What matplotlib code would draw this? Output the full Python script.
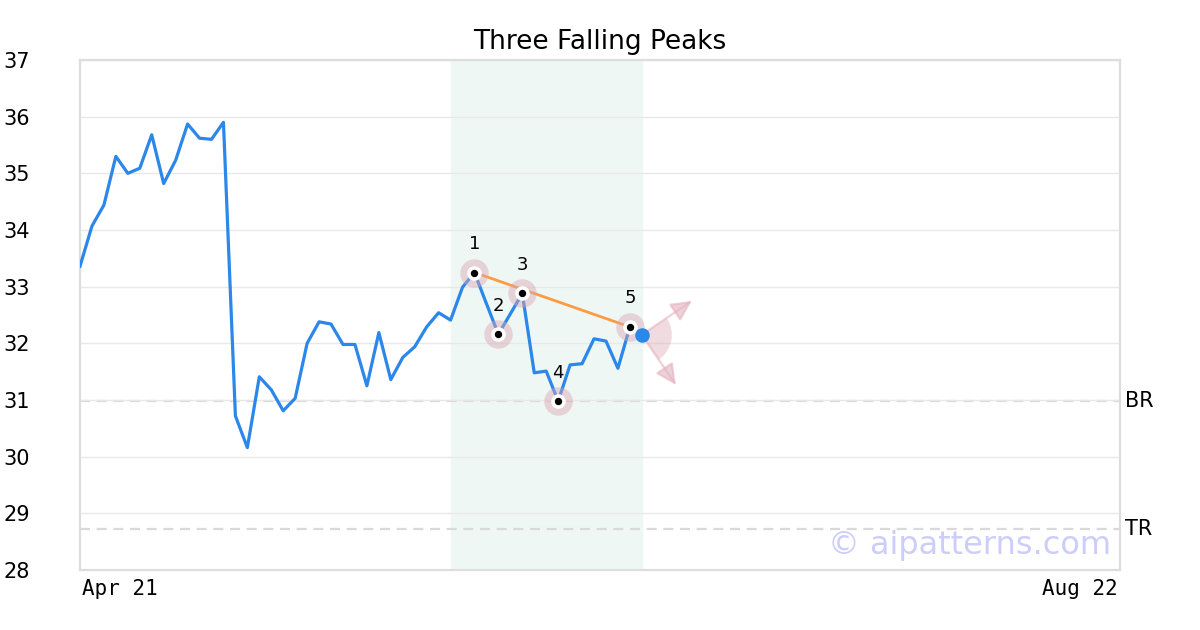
import matplotlib
matplotlib.use("Agg")
from matplotlib import pyplot as plt
from matplotlib.patches import Wedge
from matplotlib.transforms import ScaledTranslation

title = "Three Falling Peaks"
prices = [33.36, 34.07, 34.44, 35.30, 35.00, 35.09, 35.68, 34.82, 35.23, 35.87,
          35.62, 35.60, 35.90, 30.72, 30.16, 31.41, 31.18, 30.81, 31.03, 32.00,
          32.38, 32.34, 31.98, 31.98, 31.25, 32.19, 31.36, 31.75, 31.94, 32.29,
          32.54, 32.41, 32.99, 33.25, 32.70, 32.16, 32.52, 32.88, 31.48, 31.51,
          30.98, 31.62, 31.64, 32.08, 32.04, 31.56, 32.29, 32.15]
pattern_idx = [33, 35, 37, 40, 46]
pattern_labels = ["1", "2", "3", "4", "5"]
peak_idx = [33, 46]
zone = [31, 47]
levels = {"BR": 30.98, "TR": 28.72}
x_labels = ["Apr 21", "Aug 22"]
n_periods = 87
y_ticks = list(range(28, 38))

fig = plt.figure(figsize=(12, 6.3), dpi=100)
ax = fig.add_axes([80 / 1200, 60 / 630, 1040 / 1200, 510 / 630])
ax.set_xlim(0, n_periods)
ax.set_ylim(28, 37)

# shaded pattern zone
ax.axvspan(zone[0], zone[1], color="#eff7f4", zorder=0)

# grid + frame
ax.set_yticks(y_ticks)
ax.grid(axis="y", color="#e8e8e8", linewidth=1, zorder=0.5)
for s in ax.spines.values():
    s.set_color("#dddddd")
    s.set_linewidth(1.6)
ax.tick_params(axis="y", length=0, pad=36, labelsize=15)
ax.set_xticks([])

for lab, lv in levels.items():
    ax.axhline(lv, color="#d9d9d9", linewidth=1.6, dashes=(4.5, 3), zorder=1)
    ax.text(1.005, lv, lab, transform=ax.get_yaxis_transform(), fontsize=15,
            va="center", ha="left")

ax.text(0.002, -0.018, x_labels[0], transform=ax.transAxes, family="DejaVu Sans Mono",
        fontsize=15, ha="left", va="top")
ax.text(0.998, -0.018, x_labels[1], transform=ax.transAxes, family="DejaVu Sans Mono",
        fontsize=15, ha="right", va="top")

xs = list(range(len(prices)))
ax.plot(xs, prices, color="#2b87ea", linewidth=2.3, zorder=3)

# trend line through the peaks
ax.plot(peak_idx, [prices[i] for i in peak_idx], color="#fd9b42", linewidth=2, zorder=3)

px = pattern_idx
py = [prices[i] for i in pattern_idx]
ax.scatter(px, py, s=420, color="#d9a5b3", alpha=0.45, linewidths=0, zorder=4)
ax.scatter(px, py, s=110, color="white", linewidths=0, zorder=5)
ax.scatter(px, py, s=28, color="black", linewidths=0, zorder=6)
for lab, x, y in zip(pattern_labels, px, py):
    ax.annotate(lab, (x, y), xytext=(0, 14), textcoords="offset points",
                ha="center", va="bottom", fontsize=13, zorder=7)

# last point + projection arrows
last_x, last_y = xs[-1], prices[-1]
ax.scatter([last_x], [last_y], s=110, color="#2b87ea", linewidths=0, zorder=6)
wtrans = fig.dpi_scale_trans + ScaledTranslation(last_x, last_y, ax.transData)
ax.add_patch(Wedge((0, 0), 0.3, -56, 34, transform=wtrans, color="#d9a5b3",
                   alpha=0.4, linewidth=0, zorder=2))
for dx, dy in [(36, 24.5), (24.5, -36)]:
    ax.annotate("", xy=(last_x, last_y), xytext=(dx, dy), textcoords="offset points",
                arrowprops=dict(arrowstyle="<|-,head_length=0.9,head_width=0.45",
                                color="#e3b3c0", alpha=0.6, lw=1.6,
                                shrinkA=0, shrinkB=4, mutation_scale=14),
                zorder=2)

ax.text(0.991, 0.018, "\u00a9 aipatterns.com", transform=ax.transAxes, fontsize=23,
        color="#cdcdfa", ha="right", va="bottom", zorder=1)

ax.set_title(title, fontsize=19, pad=8)

fig.savefig("out.png", dpi=100)
